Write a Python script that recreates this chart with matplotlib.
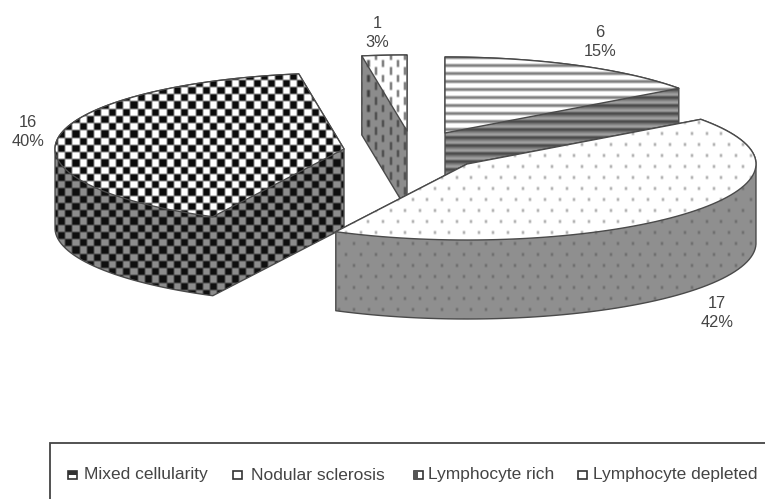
import numpy as np
import matplotlib
matplotlib.use("Agg")
import matplotlib.pyplot as plt
from matplotlib.patches import Polygon, Rectangle

plt.rcParams['font.family'] = ['Liberation Sans', 'DejaVu Sans']

# ---- data (clockwise from 12 o'clock)
categories = ["Lymphocyte depleted", "Nodular sclerosis", "Mixed cellularity", "Lymphocyte rich"]
counts = [6, 17, 16, 1]
percents = ["15%", "42%", "40%", "3%"]
legend_order = ["Mixed cellularity", "Nodular sclerosis", "Lymphocyte rich", "Lymphocyte depleted"]

# ---- layout (pixel space)
W, H = 765, 499
RX, RY, DEPTH = 289, 76, 79
apex = {"Lymphocyte depleted": (445, 133), "Nodular sclerosis": (467, 164),
        "Mixed cellularity": (344, 149), "Lymphocyte rich": (407, 131)}
label_xy = {"Lymphocyte depleted": (600, 42), "Nodular sclerosis": (717, 313),
            "Mixed cellularity": (28, 132), "Lymphocyte rich": (377, 33)}
draw_order = ["Lymphocyte rich", "Lymphocyte depleted", "Mixed cellularity", "Nodular sclerosis"]
legend_key_x = [72, 237, 418, 582]
legend_text_x = [84, 251, 428, 593]
EDGE = "#4a4a4a"
TXT = "#444444"

yy, xx = np.mgrid[0:H, 0:W] + 0.5


def soft(a):
    k = np.array([0.25, 0.5, 0.25])
    a = np.apply_along_axis(lambda r: np.convolve(r, k, mode="same"), 0, a)
    return np.apply_along_axis(lambda r: np.convolve(r, k, mode="same"), 1, a)


def checker(base, ink, cell=7.25):
    m = ((np.floor(xx / cell) + np.floor(yy / cell)) % 2) == 0
    return np.where(m, ink, base)


def dots(base, ink, px=14.7, py=11.0):
    row = np.floor(yy / py)
    fx = (xx + row * px / 2) % px
    fy = yy % py
    return np.where((fx < 2.0) & (fy < 2.6), ink, base)


def dashes(base, ink, px=7.35, py=15.0):
    col = np.floor(xx / px)
    fx = xx % px
    fy = (yy + col * py / 2) % py
    return np.where((fx < 2.2) & (fy < 7.5), ink, base)


def stripes(base, ink, alt=None, py=8.0):
    fy = yy % py
    out = np.where(fy < 3.0, ink, base)
    if alt is not None:
        out = np.where((fy >= 3.0) & (fy < 5.0), alt, out)
    return out


textures = {
    "Mixed cellularity": (checker(1.0, 0.05), checker(0.55, 0.06)),
    "Nodular sclerosis": (dots(1.0, 0.6), dots(0.56, 0.4)),
    "Lymphocyte rich": (dashes(1.0, 0.35), dashes(0.55, 0.25)),
    "Lymphocyte depleted": (stripes(1.0, 0.5), stripes(0.62, 0.3, 0.48)),
}


def hull(pts):
    pts = sorted(set(map(tuple, np.round(pts, 3))))

    def half(seq):
        out = []
        for p in seq:
            while len(out) > 1 and ((out[-1][0] - out[-2][0]) * (p[1] - out[-2][1])
                                    - (out[-1][1] - out[-2][1]) * (p[0] - out[-2][0])) <= 0:
                out.pop()
            out.append(p)
        return out[:-1]
    return np.array(half(pts) + half(pts[::-1]))


fig = plt.figure(figsize=(W / 100, H / 100), dpi=100)
ax = fig.add_axes([0, 0, 1, 1])
ax.set_axis_off()


def textured(poly, tex, z):
    patch = Polygon(poly, closed=True, facecolor="none", edgecolor=EDGE, lw=1.0, zorder=z + 0.2,
                    joinstyle="round")
    ax.add_patch(patch)
    im = ax.imshow(soft(tex), cmap="gray", vmin=0, vmax=1, extent=(0, W, H, 0), aspect="auto",
                   interpolation="bilinear", zorder=z)
    im.set_clip_path(patch)


# angular extent of each slice comes from the counts
total = sum(counts)
sweeps = [c / total * 360 for c in counts]
ends = 90 - np.cumsum(sweeps)
starts = ends + np.array(sweeps)
geom = {c: (s, e) for c, s, e in zip(categories, starts, ends)}

for i, name in enumerate(draw_order):
    t0, t1 = geom[name]
    cx, cy = apex[name]
    t = np.radians(np.linspace(t0, t1, 80))
    arc = np.c_[cx + RX * np.cos(t), cy - RY * np.sin(t)]
    top = np.vstack([[cx, cy], arc])
    bottom = top + [0, DEPTH]
    top_tex, side_tex = textures[name]
    z = 2 + i * 2
    textured(hull(np.vstack([top, bottom])), side_tex, z)
    textured(top, top_tex, z + 1)
    # seam where the front faces of the mixed-cellularity slice meet
    if name == "Mixed cellularity":
        ax.plot([arc[-1][0]] * 2, [arc[-1][1], arc[-1][1] + DEPTH], color="#333333", lw=0.7, zorder=z + 0.5)

# data labels
for name, c, pct in zip(categories, counts, percents):
    x, y = label_xy[name]
    ax.text(x, y, f"{c}\n{pct}", ha="center", va="center", fontsize=11.8, color=TXT,
            linespacing=1.28, zorder=30)

# legend
ax.add_patch(Rectangle((50, 443), W, H, facecolor="white", edgecolor="#444444", lw=1.3, zorder=20))
for name, kx, tx in zip(legend_order, legend_key_x, legend_text_x):
    ax.add_patch(Rectangle((kx - 4, 471), 9, 8, facecolor="white", edgecolor="#333333", lw=1.2, zorder=21))
    if name == "Mixed cellularity":
        ax.add_patch(Rectangle((kx - 4, 471), 9, 4, facecolor="#333333", edgecolor="none", zorder=22))
    if name == "Lymphocyte rich":
        ax.add_patch(Rectangle((kx - 4, 471), 4, 8, facecolor="#555555", edgecolor="none", zorder=22))
    ax.text(tx, 475, name, ha="left", va="center", fontsize=12.5, color=TXT, zorder=23)

ax.set_xlim(0, W)
ax.set_ylim(H, 0)
fig.savefig("out.png", dpi=100, facecolor="white")
